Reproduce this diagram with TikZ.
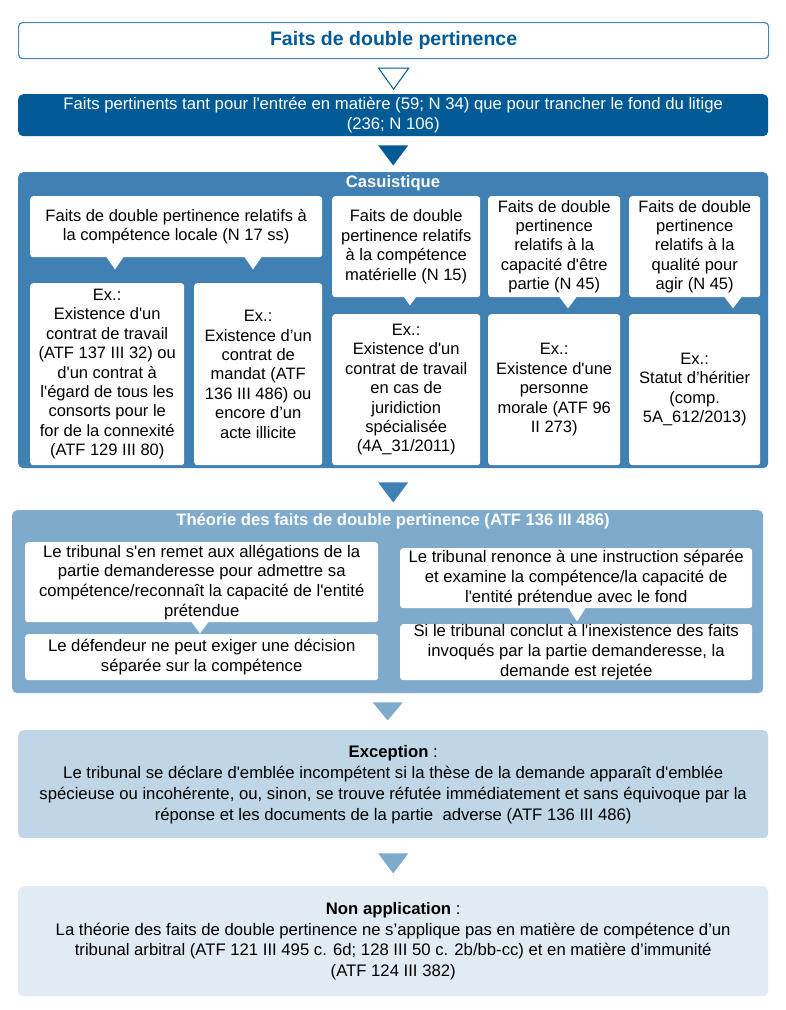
\documentclass[tikz,border=0pt]{standalone}
\usepackage{fontspec}
\setmainfont{Liberation Sans}
\usetikzlibrary{positioning, calc}
\definecolor{deep}{RGB}{0,90,150}
\definecolor{frame}{RGB}{74,135,186}
\definecolor{casu}{RGB}{64,128,178}
\definecolor{theo}{RGB}{126,170,204}
\definecolor{excp}{RGB}{190,214,230}
\definecolor{nonapp}{RGB}{224,235,243}
% straight apostrophe, kept out of the tex-text mapping
\newcommand\sq{\XeTeXglyph\XeTeXglyphindex"quotesingle" }

\begin{document}
\begin{tikzpicture}[x=1pt, y=-1pt,
    panel/.style={rectangle, rounded corners=5pt, anchor=north west, inner sep=0pt,
                  align=center},
    card/.style={rectangle, rounded corners=3pt, fill=white, anchor=north west,
                 inner sep=0pt, align=center},
    casetxt/.style={font=\fontsize{16.5}{19.4}\selectfont},
    theotxt/.style={font=\fontsize{16.7}{19.7}\selectfont},
    head/.style={font=\fontsize{16.6}{19}\selectfont\bfseries, text=white}
  ]
  \useasboundingbox (0,0) rectangle (785,1010);

  % header and first step
  \node[panel, draw=frame, line width=1.2pt, fill=white, rounded corners=4pt,
        minimum width=750pt, minimum height=36pt, text=deep,
        font=\fontsize{19.5}{22}\selectfont\bfseries] (title) at (18,22) {Faits de double pertinence};
  \node[panel, fill=deep, minimum width=750pt, minimum height=42pt, text=white,
        font=\fontsize{16.7}{20}\selectfont] (facts) at (18,94)
        {Faits pertinents tant pour l\sq entrée en matière (59; N 34) que pour trancher le fond du litige\\(236; N 106)};
  \draw[deep, line width=1pt, fill=white] ($(title.south)+(-15,9)$) -- ++(30,0) -- ++(-15,21) -- cycle;
  \fill[deep] ($(facts.south)+(-15,9)$) -- ++(30,0) -- ++(-15,20) -- cycle;

  % casuistique
  \node[panel, fill=casu, minimum width=750pt, minimum height=296pt] (casu) at (18,172) {};
  \node[head] (casuhead) at (393,183) {Casuistique};

  \node[card, casetxt, minimum width=292pt, minimum height=61pt] (loc) at (30,196)
       {Faits de double pertinence relatifs à\\la compétence locale (N 17 ss)};
  \node[card, casetxt, minimum width=148pt, minimum height=101pt] (mat) at (332,196)
       {Faits de double\\pertinence relatifs\\à la compétence\\matérielle (N 15)};
  \node[card, casetxt, minimum width=132pt, minimum height=101pt] (cap) at (488,196)
       {Faits de double\\pertinence\\relatifs à la\\capacité d\sq être\\partie (N 45)};
  \node[card, casetxt, minimum width=131pt, minimum height=101pt] (qual) at (629,196)
       {Faits de double\\pertinence\\relatifs à la\\qualité pour\\agir (N 45)};

  \node[card, casetxt, minimum width=154pt, minimum height=182pt] (exa) at (30,283)
       {Ex.:\\Existence d\sq un\\contrat de travail\\(ATF 137 III 32) ou\\d\sq un contrat à\\l\sq égard de tous les\\consorts pour le\\for de la connexité\\(ATF 129 III 80)};
  \node[card, casetxt, minimum width=128pt, minimum height=182pt] (exb) at (194,283)
       {Ex.:\\Existence d’un\\contrat de\\mandat (ATF\\136 III 486) ou\\encore d’un\\acte illicite};
  \node[card, casetxt, minimum width=148pt, minimum height=151pt] (exc) at (332,314)
       {Ex.:\\Existence d\sq un\\contrat de travail\\en cas de\\juridiction\\spécialisée\\(4A\_31/2011)};
  \node[card, casetxt, minimum width=132pt, minimum height=151pt] (exd) at (488,314)
       {Ex.:\\Existence d\sq une\\personne\\morale (ATF 96\\II 273)};
  \node[card, casetxt, minimum width=131pt, minimum height=151pt] (exe) at (629,314)
       {Ex.:\\Statut d’héritier\\(comp.\\5A\_612/2013)};

  \fill[white] ($(loc.south west)+(76,-1)$) -- ++(18,0) -- ++(-9,13) -- cycle;
  \fill[white] ($(loc.south west)+(214,-1)$) -- ++(18,0) -- ++(-9,13) -- cycle;
  \fill[white] ($(mat.south west)+(71.5,-1)$) -- ++(13,0) -- ++(-6.5,9) -- cycle;
  \fill[white] ($(cap.south west)+(71,-1)$) -- ++(18,0) -- ++(-9,12) -- cycle;
  \fill[white] ($(qual.south west)+(95,-1)$) -- ++(18,0) -- ++(-9,12) -- cycle;

  \fill[casu] ($(casu.south)+(-15,14)$) -- ++(30,0) -- ++(-15,20) -- cycle;

  % theorie
  \node[panel, fill=theo, minimum width=751pt, minimum height=183pt] (theo) at (12,510) {};
  \node[head] (theohead) at (393,521) {Théorie des faits de double pertinence (ATF 136 III 486)};

  \node[card, theotxt, minimum width=353pt, minimum height=80pt] (remet) at (25,542)
       {Le tribunal s\sq en remet aux allégations de la\\partie demanderesse pour admettre sa\\compétence/reconnaît la capacité de l\sq entité\\prétendue};
  \node[card, theotxt, minimum width=353pt, minimum height=46pt] (defend) at (25,634)
       {Le défendeur ne peut exiger une décision\\séparée sur la compétence};
  \node[card, theotxt, minimum width=352pt, minimum height=60pt] (renonce) at (400,548)
       {Le tribunal renonce à une instruction séparée\\et examine la compétence/la capacité de\\l\sq entité prétendue avec le fond};
  \node[card, theotxt, minimum width=352pt, minimum height=56pt] (rejet) at (400,624)
       {Si le tribunal conclut à l\sq inexistence des faits\\invoqués par la partie demanderesse, la\\demande est rejetée};

  \fill[white] ($(remet.south west)+(166,-1)$) -- ++(18,0) -- ++(-9,12) -- cycle;
  \fill[white] ($(renonce.south west)+(168,-1)$) -- ++(18,0) -- ++(-9,14) -- cycle;

  \fill[theo] ($(theo.south)+(-15,9)$) -- ++(30,0) -- ++(-15,18) -- cycle;

  % exception and non application
  \node[panel, fill=excp, minimum width=750pt, minimum height=108pt,
        font=\fontsize{16.7}{21}\selectfont] (except) at (18,730)
       {\textbf{Exception} :\\Le tribunal se déclare d\sq emblée incompétent si la thèse de la demande apparaît d\sq emblée\\spécieuse ou incohérente, ou, sinon, se trouve réfutée immédiatement et sans équivoque par la\\réponse et les documents de la partie\ \ adverse (ATF 136 III 486)};
  \fill[theo] ($(except.south)+(-15,15)$) -- ++(30,0) -- ++(-15,20) -- cycle;
  \node[panel, fill=nonapp, minimum width=750pt, minimum height=110pt,
        font=\fontsize{16.7}{20.5}\selectfont] (nonapp) at (18,886)
       {\textbf{Non application} :\\La théorie des faits de double pertinence ne s’applique pas en matière de compétence d’un\\tribunal arbitral (ATF 121 III 495 c. 6d; 128 III 50 c. 2b/bb-cc) et en matière d’immunité\\(ATF 124 III 382)};
\end{tikzpicture}
\end{document}
